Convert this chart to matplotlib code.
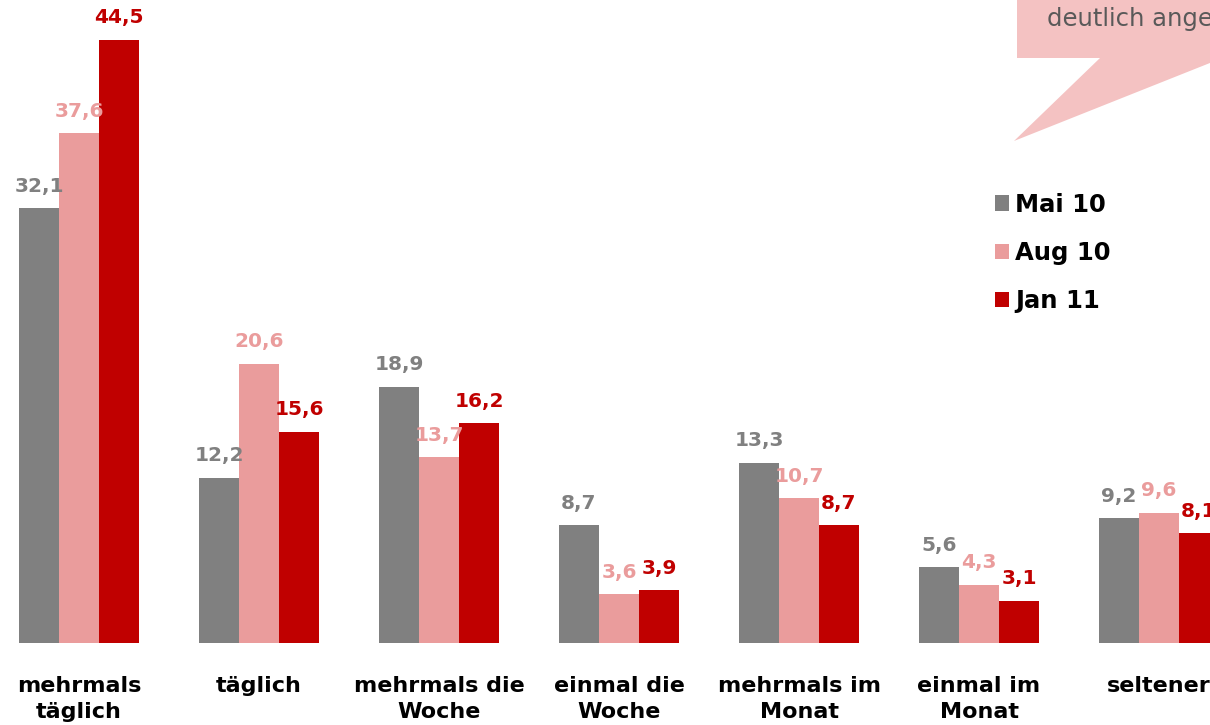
import matplotlib.pyplot as plt
import matplotlib.patches as mpatches
import numpy as np

# Data
categories = ["mehrmals\ntäglich", "täglich", "mehrmals die\nWoche", "einmal die\nWoche",
              "mehrmals im\nMonat", "einmal im\nMonat", "seltener"]
series_names = ["Mai 10", "Aug 10", "Jan 11"]
mai_10 = [32.1, 12.2, 18.9, 8.7, 13.3, 5.6, 9.2]
aug_10 = [37.6, 20.6, 13.7, 3.6, 10.7, 4.3, 9.6]
jan_11 = [44.5, 15.6, 16.2, 3.9, 8.7, 3.1, 8.1]
callout_text = "deutlich angestiegen"

colors = ['#808080', '#EA9C9C', '#C00000']

W, H = 1210, 725
fig = plt.figure(figsize=(W / 100, H / 100), dpi=100)

# Axes placed in pixel terms: baseline at y=643, group pitch 180 px
base_px = 643
ax = fig.add_axes([0, (H - base_px) / H, 1, base_px / H])
pitch = 180.0
first_center = 79.0
ax.set_xlim(-first_center / pitch, (W - first_center) / pitch)
px_per_unit = (643 - 40) / 44.5
ax.set_ylim(0, base_px / px_per_unit)
ax.axis('off')

x = np.arange(len(categories))
bw = 40 / pitch
for k, (vals, col) in enumerate(zip([mai_10, aug_10, jan_11], colors)):
    pos = x + (k - 1) * bw
    bars = ax.bar(pos, vals, width=bw, color=col, label=series_names[k], clip_on=False)
    for b, v in zip(bars, vals):
        ax.annotate(f"{v:.1f}".replace('.', ','),
                    (b.get_x() + b.get_width() / 2, b.get_height()),
                    xytext=(0, 9), textcoords='offset points',
                    ha='center', va='bottom', fontsize=14.5, fontweight='bold',
                    color=col, clip_on=False)

# category labels below baseline
for xi, cat in zip(x, categories):
    ax.annotate(cat, (xi, 0), xytext=(0, -24), textcoords='offset points',
                ha='center', va='top', fontsize=16, fontweight='bold',
                color='black', linespacing=1.35, annotation_clip=False)

leg = ax.legend(loc='upper left', bbox_to_anchor=(985 / W, 1 - 183 / base_px),
                bbox_transform=ax.transAxes, frameon=False,
                prop={'size': 17.5, 'weight': 'bold'},
                handlelength=0.6, handleheight=0.6, handletextpad=0.25,
                labelspacing=1.0, borderaxespad=0)

# callout bubble in pixel coordinates
ov = fig.add_axes([0, 0, 1, 1], zorder=-1)
ov.set_xlim(0, W)
ov.set_ylim(H, 0)
ov.axis('off')
bubble = mpatches.Polygon([(1017, -5), (1017, 58), (1100, 58), (1014, 141),
                           (1230, 55), (1230, -5)],
                          closed=True, facecolor='#F4C2C2', edgecolor='none')
ov.add_patch(bubble)
ov.text(1047, 19, callout_text, fontsize=17.5, color='#595959', ha='left', va='center')

fig.savefig('out.png', dpi=100)
